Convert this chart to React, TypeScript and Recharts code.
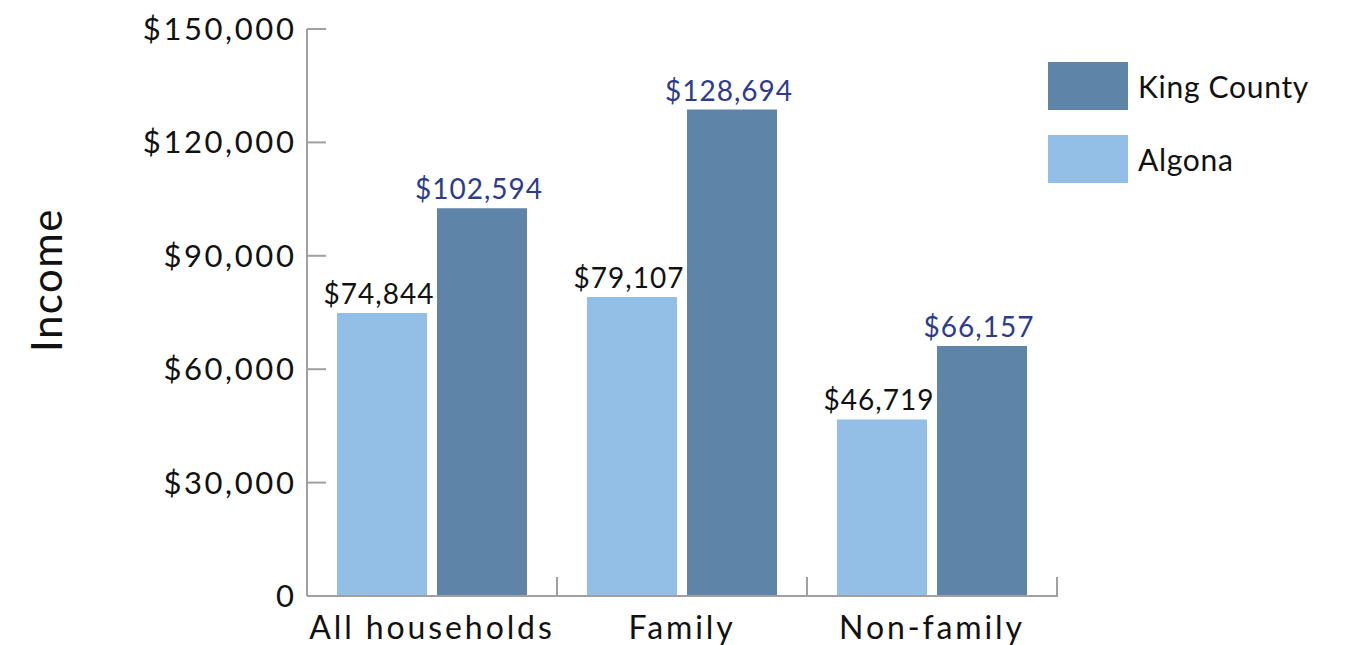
import { BarChart, Bar, XAxis, YAxis, LabelList } from 'recharts';

const categories = ['All households', 'Family', 'Non-family'];
const algona = [74844, 79107, 46719];
const kingCounty = [102594, 128694, 66157];
const yTicks = [0, 30000, 60000, 90000, 120000, 150000];

const data = categories.map((name, i) => ({ name, algona: algona[i], king: kingCounty[i] }));

const AXIS = '#a0a0a0';
const FONT = 'Lato, "Open Sans", sans-serif';

const money = (v: number) => '$' + v.toLocaleString('en-US');

function YTick(props: any) {
  const { x, y, payload } = props;
  return (
    <g>
      <line x1={x + 13} x2={x + 32} y1={y} y2={y} stroke={AXIS} strokeWidth={2} />
      <text x={x + 2.5} y={y} dy={11} textAnchor="end" fontSize={31} letterSpacing={2.6} fill="#111" fontFamily={FONT}>
        {payload.value === 0 ? '0' : money(payload.value)}
      </text>
    </g>
  );
}

function XTick(props: any) {
  const { x, y, payload } = props;
  const half = 125;
  return (
    <g>
      <line x1={x + half} x2={x + half} y1={y - 1} y2={y - 21} stroke={AXIS} strokeWidth={2} />
      <text x={x} y={y} dy={41} textAnchor="middle" fontSize={32} letterSpacing={2.9} fill="#111" fontFamily={FONT}>
        {payload.value}
      </text>
    </g>
  );
}

function LegendBox() {
  const items = [
    { label: 'King County', color: '#5e85a7' },
    { label: 'Algona', color: '#93bee6' },
  ];
  return (
    <div style={{ position: 'absolute', left: 1048, top: 62, fontFamily: FONT }}>
      {items.map((it) => (
        <div key={it.label} style={{ display: 'flex', alignItems: 'center', height: 48, marginBottom: 25 }}>
          <div style={{ width: 80, height: 48, background: it.color }} />
          <span style={{ marginLeft: 10, fontSize: 30, letterSpacing: 0.7, color: '#111' }}>{it.label}</span>
        </div>
      ))}
    </div>
  );
}

export default function App() {
  return (
    <div style={{ position: 'absolute', left: 0, top: 0, width: 1347, height: 645, background: '#fff' }}>
      <BarChart
        width={1347}
        height={645}
        data={data}
        margin={{ top: 29, right: 290, bottom: 0, left: 7 }}
        barCategoryGap={30}
        barGap={10}
      >
        <XAxis
          dataKey="name"
          height={49}
          axisLine={{ stroke: AXIS, strokeWidth: 2 }}
          tickLine={false}
          tickSize={0}
          tick={<XTick />}
          interval={0}
        />
        <YAxis
          width={300}
          domain={[0, 150000]}
          ticks={yTicks}
          axisLine={{ stroke: AXIS, strokeWidth: 2 }}
          tickLine={false}
          tickSize={0}
          tickMargin={13}
          tick={<YTick />}
          label={{
            content: () => (
              <text
                x={62}
                y={280}
                transform="rotate(-90, 62, 280)"
                textAnchor="middle"
                fontSize={42}
                letterSpacing={1.5}
                fill="#111"
                fontFamily={FONT}
              >
                Income
              </text>
            ),
          }}
        />
        <Bar dataKey="algona" name="Algona" fill="#93bee6" barSize={90} isAnimationActive={false}>
          <LabelList
            dataKey="algona"
            position="top"
            offset={9}
            dx={-3}
            formatter={(v: any) => money(Number(v))}
            style={{ fontSize: 28, letterSpacing: 1, fill: '#111', fontFamily: FONT }}
          />
        </Bar>
        <Bar dataKey="king" name="King County" fill="#5e85a7" barSize={90} isAnimationActive={false}>
          <LabelList
            dataKey="king"
            position="top"
            offset={9}
            dx={-3}
            formatter={(v: any) => money(Number(v))}
            style={{ fontSize: 28, letterSpacing: 1, fill: '#2e3a8c', fontFamily: FONT }}
          />
        </Bar>
      </BarChart>
      <LegendBox />
    </div>
  );
}
